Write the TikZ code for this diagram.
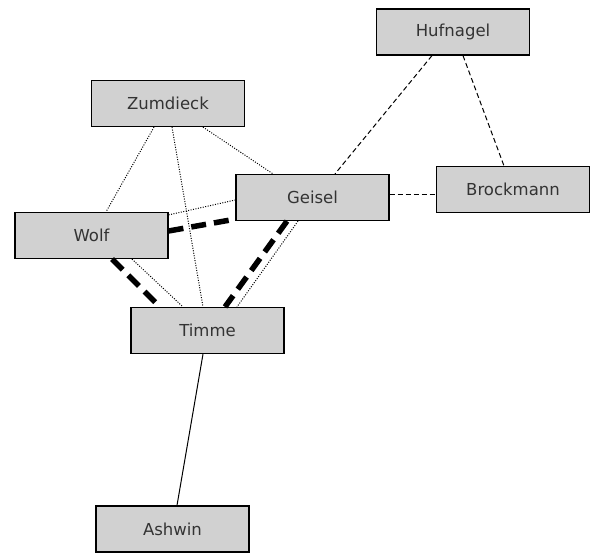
\documentclass[tikz,border=0pt]{standalone}
\usepackage{fontspec}
\setmainfont{DejaVu Sans}
\begin{document}
\begin{tikzpicture}[x=1pt,y=-1pt,
  person/.style={draw=black,line width=1.2pt,fill=boxgray,minimum width=153pt,minimum height=46pt,
    inner sep=0pt,text=textgray,font=\fontsize{16.5}{19}\selectfont},
  thinline/.style={line width=1pt},
  dotline/.style={line width=1pt,dash pattern=on 1pt off 1.5pt},
  dashline/.style={line width=1pt,dash pattern=on 5pt off 3pt},
  heavydash/.style={line width=5.5pt,dash pattern=on 15pt off 8pt}]
\definecolor{boxgray}{HTML}{D1D1D1}
\definecolor{textgray}{HTML}{333333}
\useasboundingbox (0,0) rectangle (590,553);
\node[person] (huf) at (453,32) {Hufnagel};
\node[person] (brock) at (513,189.5) {Brockmann};
\node[person] (geisel) at (312.5,197.5) {Geisel};
\node[person] (zum) at (168,103.5) {Zumdieck};
\node[person] (wolf) at (91.5,235.5) {Wolf};
\node[person] (timme) at (207.5,330.5) {Timme};
\node[person] (ashwin) at (172.5,529) {Ashwin};
% dashed
\draw[dashline] ([xshift=-21pt]huf.south) -- ([xshift=22.5pt]geisel.north);
\draw[dashline] ([xshift=10pt]huf.south) -- ([xshift=-9pt]brock.north);
\draw[dashline] ([yshift=2.5pt]geisel.east) -- ([yshift=-5.5pt]brock.west);
% dotted
\draw[dotline] ([xshift=35pt]zum.south) -- ([xshift=-39.5pt]geisel.north);
\draw[dotline] ([xshift=-14pt]zum.south) -- ([xshift=14.5pt]wolf.north);
\draw[dotline] ([xshift=4pt]zum.south) -- ([xshift=-4.5pt]timme.north);
\draw[dotline] ([yshift=-3pt]wolf.north east) -- ([yshift=-2.5pt]geisel.west);
\draw[dotline] ([xshift=40.5pt]wolf.south) -- ([xshift=-24.5pt]timme.north);
\draw[dotline] ([xshift=-14.5pt]geisel.south) -- ([xshift=29.5pt]timme.north);
% heavy dashed
\draw[heavydash] ([yshift=4.5pt]wolf.east) -- ([yshift=2pt]geisel.south west);
\draw[heavydash] ([xshift=20.5pt]wolf.south) -- ([xshift=-47.5pt]timme.north);
\draw[heavydash] ([xshift=-25.5pt]geisel.south) -- ([xshift=17.5pt]timme.north);
% solid
\draw[thinline] ([xshift=-4.5pt]timme.south) -- ([xshift=4.5pt]ashwin.north);
\end{tikzpicture}
\end{document}
